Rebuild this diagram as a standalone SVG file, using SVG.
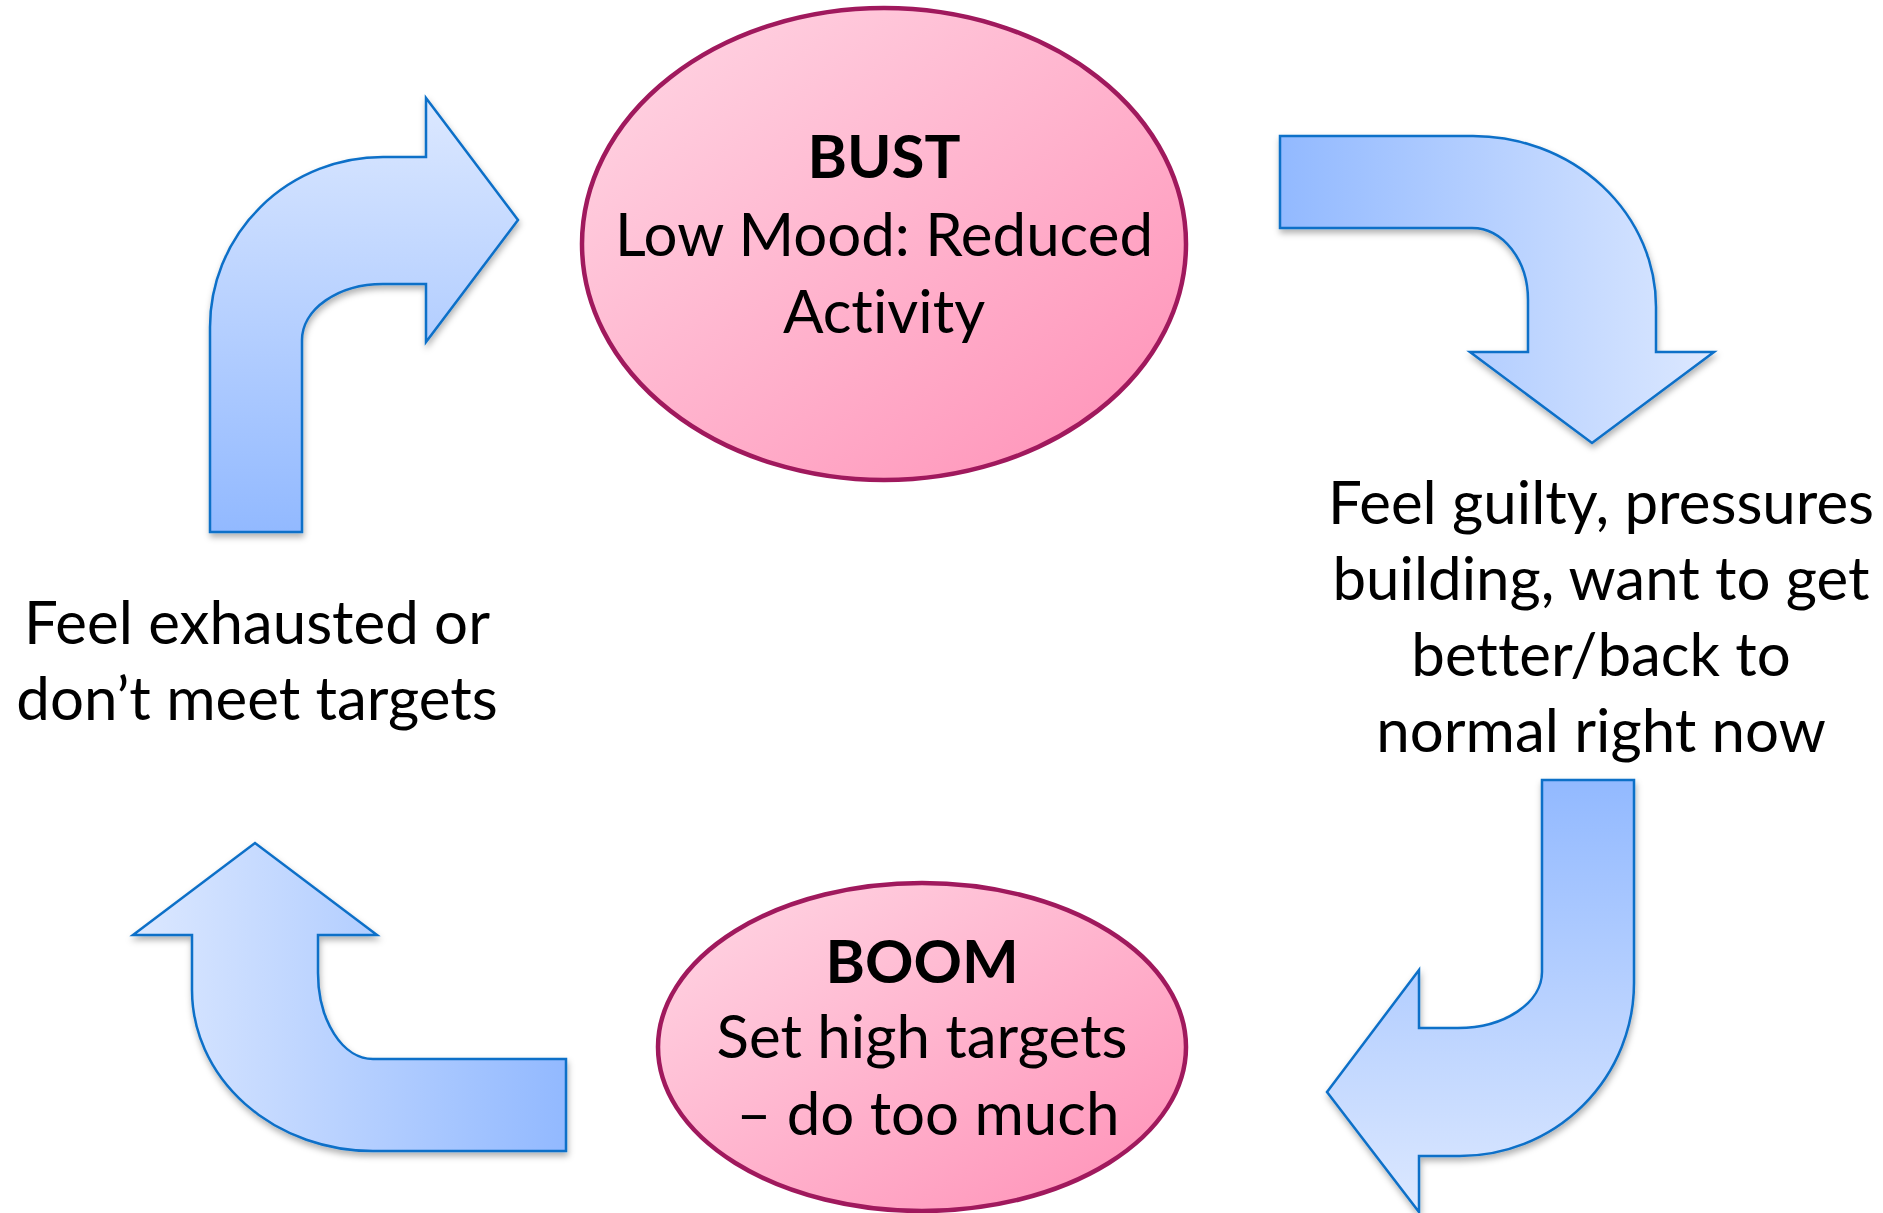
<svg xmlns="http://www.w3.org/2000/svg" width="1883" height="1213" viewBox="0 0 1883 1213">
  <defs>
    <style>
      .lbl { font-family: Lato, "Liberation Sans", sans-serif; font-size: 60px; fill: #000; text-anchor: middle; font-variant-ligatures: none; font-feature-settings: "liga" 0, "clig" 0; }
      .ttl { font-weight: bold; }
      .arrow { stroke: #0B6FC8; stroke-width: 2.5; stroke-linejoin: miter; filter: url(#shadow); }
      .node { stroke: #A0195D; stroke-width: 4.5; fill: url(#pink); }
    </style>
    <linearGradient id="pink" x1="0" y1="0" x2="1" y2="1">
      <stop offset="0" stop-color="#FFD8E5"/>
      <stop offset="1" stop-color="#FF8FB6"/>
    </linearGradient>
    <!-- arrow fills: darker at the tail, lighter at the head -->
    <linearGradient id="upGrad" gradientUnits="userSpaceOnUse" x1="0" y1="532" x2="0" y2="98">
      <stop offset="0" stop-color="#92B9FF"/>
      <stop offset="1" stop-color="#DCE8FF"/>
    </linearGradient>
    <linearGradient id="rightGrad" gradientUnits="userSpaceOnUse" x1="1280" y1="0" x2="1714" y2="0">
      <stop offset="0" stop-color="#92B9FF"/>
      <stop offset="1" stop-color="#DCE8FF"/>
    </linearGradient>
    <linearGradient id="downGrad" gradientUnits="userSpaceOnUse" x1="0" y1="780" x2="0" y2="1212">
      <stop offset="0" stop-color="#92B9FF"/>
      <stop offset="1" stop-color="#DCE8FF"/>
    </linearGradient>
    <linearGradient id="leftGrad" gradientUnits="userSpaceOnUse" x1="566" y1="0" x2="133" y2="0">
      <stop offset="0" stop-color="#92B9FF"/>
      <stop offset="1" stop-color="#DCE8FF"/>
    </linearGradient>
    <filter id="shadow" x="-10%" y="-10%" width="130%" height="130%">
      <feDropShadow dx="1" dy="4" stdDeviation="3" flood-color="#000" flood-opacity="0.3"/>
    </filter>
  </defs>

  <rect width="1883" height="1213" fill="#fff"/>

  <!-- curved arrows that close the cycle -->
  <g id="connectors">
    <path id="arrow-to-bust" class="arrow" fill="url(#upGrad)"
          d="M 210 532 L 210 327 A 173 170 0 0 1 383 157 L 426 157 L 426 98 L 518 220 L 426 342 L 426 284 L 383 284 A 81 56 0 0 0 302 340 L 302 532 Z"/>
    <path id="arrow-from-bust" class="arrow" fill="url(#rightGrad)"
          d="M 1280 136 L 1473 136 A 183 171 0 0 1 1656 307 L 1656 352 L 1714 352 L 1592 443 L 1470 352 L 1528 352 L 1528 300 A 56 72 0 0 0 1472 228 L 1280 228 Z"/>
    <path id="arrow-to-boom" class="arrow" fill="url(#downGrad)"
          d="M 1542 780 L 1634 780 L 1634 983 A 174 173 0 0 1 1460 1156 L 1419 1156 L 1419 1212 L 1327 1092 L 1419 970 L 1419 1028 L 1458 1028 A 84 56 0 0 0 1542 972 Z"/>
    <path id="arrow-from-boom" class="arrow" fill="url(#leftGrad)"
          d="M 566 1059 L 566 1151 L 373 1151 A 181 161 0 0 1 192 990 L 192 935 L 133 935 L 255 843 L 377 935 L 318 935 L 318 973 A 55 86 0 0 0 373 1059 Z"/>
  </g>

  <g id="bust">
    <ellipse class="node" cx="884" cy="244" rx="302" ry="236"/>
    <text class="lbl ttl" x="884" y="178">BUST</text>
    <text class="lbl" x="884" y="256">Low Mood: Reduced</text>
    <text class="lbl" x="884" y="333">Activity</text>
  </g>

  <g id="boom">
    <ellipse class="node" cx="922" cy="1047" rx="264" ry="164"/>
    <text class="lbl ttl" x="922" y="983">BOOM</text>
    <text class="lbl" x="922" y="1058">Set high targets</text>
    <text class="lbl" x="928" y="1135">– do too much</text>
  </g>

  <g id="pressure">
    <text class="lbl" x="1601" y="524">Feel guilty, pressures</text>
    <text class="lbl" x="1601" y="600">building, want to get</text>
    <text class="lbl" x="1601" y="676">better/back to</text>
    <text class="lbl" x="1601" y="752">normal right now</text>
  </g>

  <g id="exhausted">
    <text class="lbl" x="257" y="644">Feel exhausted or</text>
    <text class="lbl" x="257" y="720">don’t meet targets</text>
  </g>
</svg>
